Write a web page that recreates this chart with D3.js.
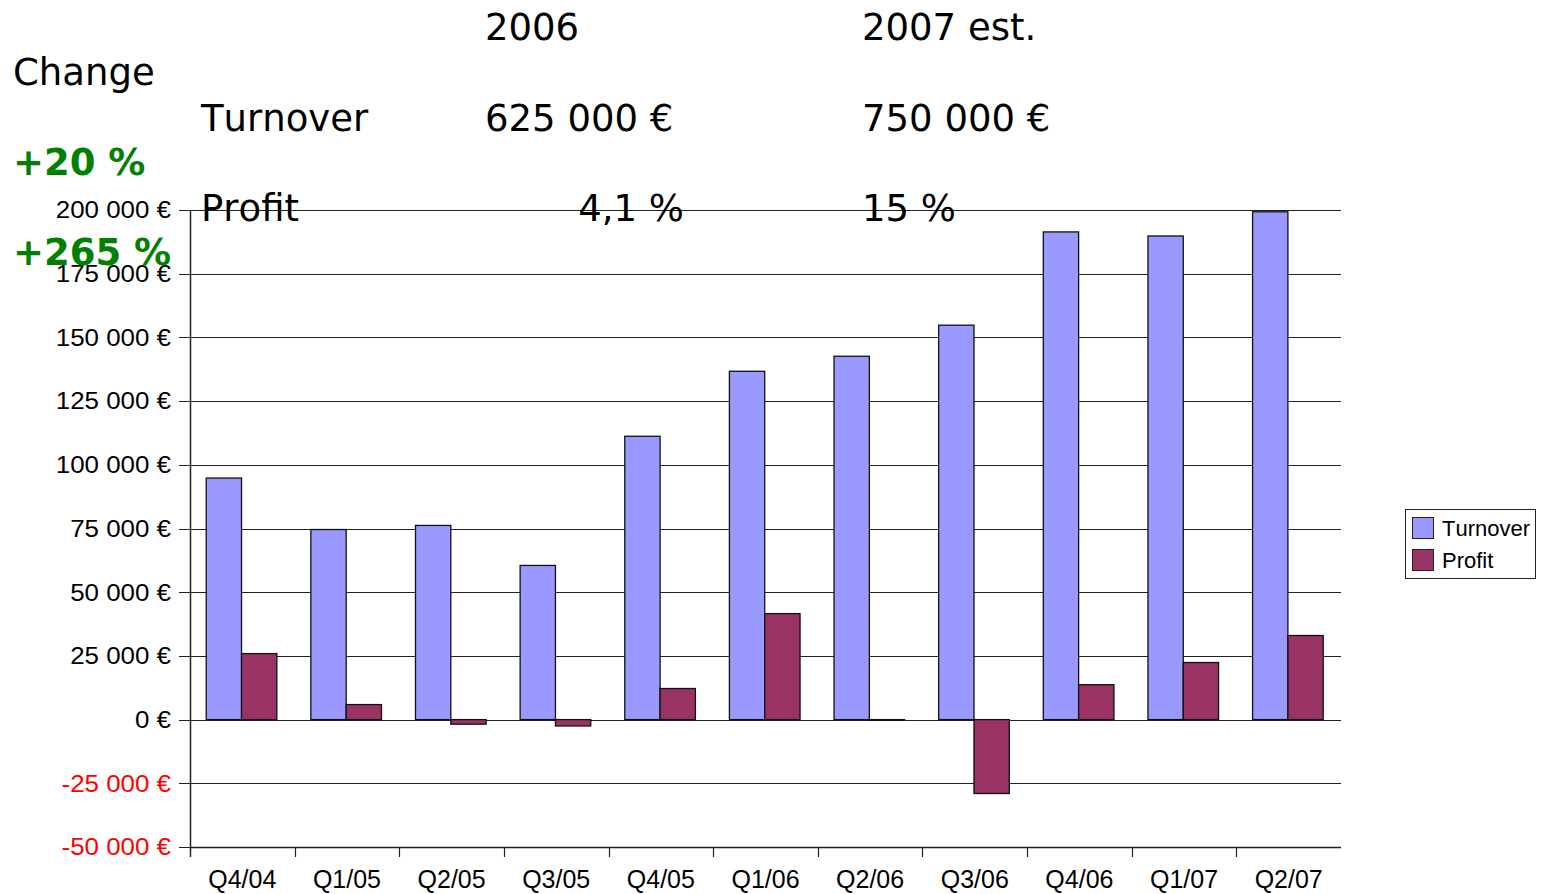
<!DOCTYPE html>
<html><head><meta charset="utf-8">
<script src="https://cdn.jsdelivr.net/npm/d3@7"></script>
<style>html,body{margin:0;padding:0;background:#fff;} text{font-kerning:none;}</style>
</head><body>
<svg id="chart" width="1543" height="894"></svg>
<script>
const categories = ["Q4/04","Q1/05","Q2/05","Q3/05","Q4/05","Q1/06","Q2/06","Q3/06","Q4/06","Q1/07","Q2/07"];
const turnover = [94800, 74600, 76200, 60500, 111200, 136700, 142600, 154800, 191400, 189800, 199300];
const profit = [25900, 5900, -1800, -2500, 12200, 41600, -300, -29000, 13700, 22400, 33000];
const seriesNames = ["Turnover","Profit"];
const seriesColors = ["#9999ff","#993366"];
const yTicks = [-50000,-25000,0,25000,50000,75000,100000,125000,150000,175000,200000];
const headerCols = ["2006","2007 est."];
const turnoverRow = ["Turnover","625 000 €","750 000 €"];
const profitRow = ["Profit","4,1 %","15 %"];
const changeLabel = "Change";
const changeValues = ["+20 %","+265 %"];

const svg = d3.select("#chart");
const pLeft = 190, pRight = 1341, pTop = 210, pBottom = 847;

const x0 = d3.scaleBand().domain(categories).range([pLeft, pRight]).padding(0);
const x1 = d3.scaleBand().domain(seriesNames).range([x0.bandwidth()*0.155, x0.bandwidth()*0.83]).padding(0);
const y = d3.scaleLinear().domain([-50000, 200000]).range([pBottom, pTop]);

const fmt = v => {
  const s = d3.format(",")(Math.abs(v)).replace(/,/g, " ");
  return (v < 0 ? "-" : "") + s + " €";
};

// gridlines
const g = svg.append("g");
g.selectAll("line.grid").data(yTicks).join("line")
  .attr("x1", pLeft - 11).attr("x2", pRight)
  .attr("y1", d => Math.round(y(d)) + 0.5).attr("y2", d => Math.round(y(d)) + 0.5)
  .attr("stroke", "#222").attr("stroke-width", 1.2);

// y labels
g.selectAll("text.yl").data(yTicks).join("text")
  .attr("x", 171).attr("y", d => y(d))
  .attr("dy", "0.35em")
  .attr("text-anchor", "end")
  .attr("font-family", "Liberation Sans, Arial, sans-serif")
  .attr("font-size", 24)
  .attr("textLength", d => null)
  .attr("transform", d => `translate(171,0) scale(1.08,1) translate(-171,0)`)
  .attr("fill", d => d < 0 ? "#ff0000" : "#000")
  .text(d => fmt(d));

// bars
const data = categories.map((c, i) => ({c, vals: [turnover[i], profit[i]]}));
const groups = svg.append("g").selectAll("g").data(data).join("g")
  .attr("transform", d => `translate(${x0(d.c)},0)`);
groups.selectAll("rect").data(d => d.vals.map((v, j) => ({v, s: seriesNames[j], j})))
  .join("rect")
  .attr("x", d => x1(d.s))
  .attr("width", x1.bandwidth())
  .attr("y", d => y(Math.max(0, d.v)))
  .attr("height", d => Math.abs(y(d.v) - y(0)))
  .attr("fill", d => seriesColors[d.j])
  .attr("stroke", "#111").attr("stroke-width", 1.3);

// axes lines
svg.append("line").attr("x1", pLeft + 0.5).attr("x2", pLeft + 0.5).attr("y1", pTop).attr("y2", pBottom + 10)
  .attr("stroke", "#222").attr("stroke-width", 1.5);
svg.append("line").attr("x1", pLeft).attr("x2", pRight).attr("y1", pBottom + 0.5).attr("y2", pBottom + 0.5)
  .attr("stroke", "#222").attr("stroke-width", 1.5);
const tickX = categories.slice(1).map(c => x0(c));
svg.append("g").selectAll("line").data(tickX).join("line")
  .attr("x1", d => Math.round(d) + 0.5).attr("x2", d => Math.round(d) + 0.5)
  .attr("y1", pBottom).attr("y2", pBottom + 10)
  .attr("stroke", "#222").attr("stroke-width", 1.2);

// x labels
svg.append("g").selectAll("text").data(categories).join("text")
  .attr("x", d => x0(d) + x0.bandwidth()/2)
  .attr("y", 888)
  .attr("text-anchor", "middle")
  .attr("font-family", "Liberation Sans, Arial, sans-serif")
  .attr("font-size", 25)
  .attr("fill", "#000")
  .text(d => d);

// legend
const lg = svg.append("g");
lg.append("rect").attr("x", 1405.5).attr("y", 509.5).attr("width", 130).attr("height", 69)
  .attr("fill", "#fff").attr("stroke", "#222").attr("stroke-width", 1);
seriesNames.forEach((n, i) => {
  lg.append("rect").attr("x", 1412.5).attr("y", 517.5 + i*32).attr("width", 21).attr("height", 21)
    .attr("fill", seriesColors[i]).attr("stroke", "#222").attr("stroke-width", 1);
  lg.append("text").attr("x", 1442).attr("y", 528 + i*32).attr("dy", "0.35em")
    .attr("font-family", "Liberation Sans, Arial, sans-serif").attr("font-size", 22)
    .attr("fill", "#000").text(n);
});

// header text
const tf = "DejaVu Sans, sans-serif";
const t = svg.append("g").attr("font-family", tf).attr("font-size", 37).attr("fill", "#000");
t.append("text").attr("x", 485).attr("y", 40).text(headerCols[0]);
t.append("text").attr("x", 862).attr("y", 40).text(headerCols[1]);
t.append("text").attr("x", 13).attr("y", 85).text(changeLabel);
t.append("text").attr("x", 201).attr("y", 131).text(turnoverRow[0]);
t.append("text").attr("x", 485).attr("y", 131).text(turnoverRow[1]);
t.append("text").attr("x", 862).attr("y", 131).text(turnoverRow[2]);
t.append("text").attr("x", 201).attr("y", 221).text(profitRow[0]);
t.append("text").attr("x", 684).attr("y", 221).attr("text-anchor", "end").text(profitRow[1]);
t.append("text").attr("x", 862).attr("y", 221).text(profitRow[2]);
t.append("text").attr("x", 13).attr("y", 175).attr("font-weight", "bold").attr("fill", "#008000").text(changeValues[0]);
t.append("text").attr("x", 13).attr("y", 265).attr("font-weight", "bold").attr("fill", "#008000").text(changeValues[1]);
</script>
</body></html>
